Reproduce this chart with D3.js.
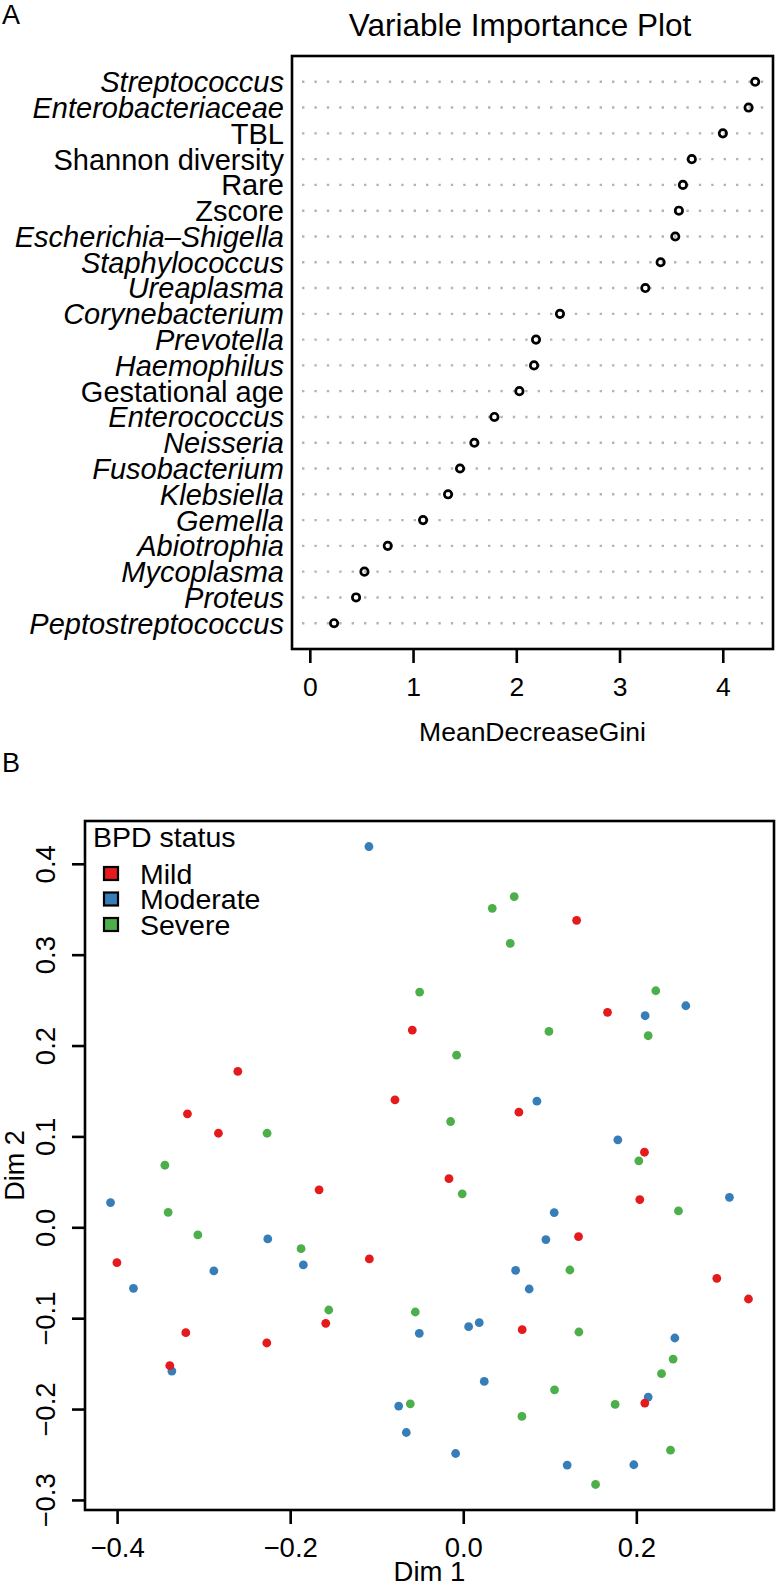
<!DOCTYPE html>
<html><head><meta charset="utf-8">
<script src="https://cdn.jsdelivr.net/npm/d3@7/dist/d3.min.js"></script>
<style>body{margin:0;background:#fff} text{font-family:"Liberation Sans",Arial,Helvetica,sans-serif;fill:#000}</style>
</head><body>
<svg id="c" width="776" height="1588" xmlns="http://www.w3.org/2000/svg"></svg>
<script>
// ---------- Panel A data ----------
const varNames = ["Streptococcus","Enterobacteriaceae","TBL","Shannon diversity","Rare","Zscore",
  "Escherichia–Shigella","Staphylococcus","Ureaplasma","Corynebacterium","Prevotella","Haemophilus",
  "Gestational age","Enterococcus","Neisseria","Fusobacterium","Klebsiella","Gemella","Abiotrophia",
  "Mycoplasma","Proteus","Peptostreptococcus"];
const varIsGenus = [true,true,false,false,false,false,true,true,true,true,true,true,false,true,true,true,true,true,true,true,true,true];
const meanDecreaseGini = [4.314,4.25,4.001,3.70,3.614,3.575,3.54,3.398,3.25,2.423,2.191,2.172,2.03,1.788,1.594,1.455,1.339,1.097,0.755,0.529,0.448,0.235];
const giniTicks = [0,1,2,3,4];
const titleA = "Variable Importance Plot";
const xLabelA = "MeanDecreaseGini";

// ---------- Panel B data ----------
const bpdStatus = ["Mild","Moderate","Severe"];
const mildDim1 = [-0.2605,-0.3187,-0.2829,-0.0789,0.131,0.1667,-0.0589,0.0643,0.2094,-0.0165,0.204,0.1332,0.293,0.3296,0.0681,0.2098,-0.1666,-0.1085,-0.4002,-0.1589,-0.3206,-0.227,-0.3391];
const mildDim2 = [0.1715,0.1249,0.1035,0.1403,0.3378,0.2365,0.217,0.1267,0.0826,0.0535,0.0305,-0.0102,-0.0561,-0.0789,-0.1127,-0.1934,0.0412,-0.0348,-0.0389,-0.1057,-0.116,-0.1273,-0.1523];
const moderateDim1 = [-0.109,0.2572,0.2102,0.0851,0.1786,0.3076,0.1051,0.0955,0.0605,0.0762,-0.0508,0.0062,0.0185,0.2445,0.0243,0.2137,-0.0746,-0.0658,-0.0088,0.1201,0.1971,-0.4076,-0.2259,-0.1848,-0.2882,-0.3811,-0.3367];
const moderateDim2 = [0.419,0.2438,0.2328,0.1388,0.0962,0.033,0.0162,-0.0135,-0.0474,-0.0679,-0.1167,-0.1094,-0.105,-0.1218,-0.1696,-0.1868,-0.1967,-0.2258,-0.2489,-0.2617,-0.2613,0.0272,-0.0128,-0.0414,-0.048,-0.0672,-0.1582];
const severeDim1 = [-0.2267,-0.3448,0.0589,0.0335,0.0543,-0.0504,0.2225,0.2137,0.099,-0.0077,-0.0146,0.2029,-0.0012,0.2487,0.1232,-0.0554,0.1336,0.2425,0.2291,0.1055,0.1755,-0.0612,0.0678,0.2395,0.1529,-0.341,-0.3067,-0.1874,-0.1554];
const severeDim2 = [0.1035,0.0683,0.3639,0.351,0.3124,0.2588,0.2603,0.2108,0.2155,0.1894,0.1164,0.0731,0.0368,0.018,-0.047,-0.0932,-0.1152,-0.145,-0.1611,-0.1788,-0.1949,-0.1942,-0.2081,-0.2452,-0.283,0.0165,-0.0084,-0.0235,-0.091];
const dim1Ticks = [-0.4,-0.2,0.0,0.2];
const dim1TickLabels = ["−0.4","−0.2","0.0","0.2"];
const dim2Ticks = [-0.3,-0.2,-0.1,0.0,0.1,0.2,0.3,0.4];
const dim2TickLabels = ["−0.3","−0.2","−0.1","0.0","0.1","0.2","0.3","0.4"];
const legendTitle = "BPD status";

// ---------- styles ----------
const colors = {Mild:"#E41A1C", Moderate:"#377EB8", Severe:"#4DAF4A"};
const svg = d3.select("#c");

// =============== Panel A ===============
const boxA = {l:292, r:773, t:56, b:649};
const maxG = d3.max(meanDecreaseGini);
const xA = d3.scaleLinear().domain([-0.04*maxG, 1.04*maxG]).range([boxA.l, boxA.r]);
const nA = varNames.length;
const yA = d3.scaleLinear().domain([0, nA+1]).range([boxA.b, boxA.t]);
const rows = varNames.map((name,i)=>({name, genus:varIsGenus[i], v:meanDecreaseGini[i], pos:nA-i}));

svg.append("text").attr("x",2).attr("y",24).attr("font-size",27).text("A");
svg.append("text").attr("x",520).attr("y",36).attr("text-anchor","middle").attr("font-size",31.5).text(titleA);

const gA = svg.append("g");
gA.selectAll("line.dot").data(rows).join("line")
  .attr("x1",boxA.l+10).attr("x2",boxA.r-4)
  .attr("y1",d=>yA(d.pos)).attr("y2",d=>yA(d.pos))
  .attr("stroke","#b4b4b4").attr("stroke-width",2.4).attr("stroke-dasharray","2.4,10");
gA.selectAll("circle").data(rows).join("circle")
  .attr("cx",d=>xA(d.v)).attr("cy",d=>yA(d.pos)).attr("r",3.7)
  .attr("fill","none").attr("stroke","#000").attr("stroke-width",2.7);
gA.selectAll("text.lab").data(rows).join("text")
  .attr("x",boxA.l-8).attr("y",d=>yA(d.pos)).attr("dy","0.36em")
  .attr("text-anchor","end").attr("font-size",29)
  .attr("font-style",d=>d.genus?"italic":"normal").text(d=>d.name);
gA.append("rect").attr("x",boxA.l).attr("y",boxA.t).attr("width",boxA.r-boxA.l).attr("height",boxA.b-boxA.t)
  .attr("fill","none").attr("stroke","#000").attr("stroke-width",2.6);
const axA = gA.append("g").attr("transform",`translate(0,${boxA.b})`)
  .call(d3.axisBottom(xA).tickValues(giniTicks).tickSize(14).tickPadding(14).tickFormat(d3.format("d")));
axA.select(".domain").remove();
axA.selectAll("line").attr("stroke","#000").attr("stroke-width",2.6);
axA.selectAll("text").attr("font-size",26.5).attr("font-family","Liberation Sans, Arial, sans-serif").attr("fill","#000");
svg.append("text").attr("x",(boxA.l+boxA.r)/2).attr("y",741).attr("text-anchor","middle").attr("font-size",26.5).text(xLabelA);

// =============== Panel B ===============
const boxB = {l:85, r:774, t:821, b:1510};
const allX = mildDim1.concat(moderateDim1, severeDim1);
const allY = mildDim2.concat(moderateDim2, severeDim2);
function ext4(a){const e=d3.extent(a);const p=(e[1]-e[0])*0.04;return [e[0]-p,e[1]+p];}
const xB = d3.scaleLinear().domain(ext4(allX)).range([boxB.l, boxB.r]);
const yB = d3.scaleLinear().domain(ext4(allY)).range([boxB.b, boxB.t]);

svg.append("text").attr("x",2).attr("y",772).attr("font-size",27).text("B");

const seriesB = [
  {k:"Moderate", x:moderateDim1, y:moderateDim2},
  {k:"Severe", x:severeDim1, y:severeDim2},
  {k:"Mild", x:mildDim1, y:mildDim2}
];
const gB = svg.append("g");
seriesB.forEach(s=>{
  gB.append("g").selectAll("circle").data(s.x.map((v,i)=>[v,s.y[i]])).join("circle")
    .attr("cx",d=>xB(d[0])).attr("cy",d=>yB(d[1])).attr("r",4.4).attr("fill",colors[s.k]);
});
gB.append("rect").attr("x",boxB.l).attr("y",boxB.t).attr("width",boxB.r-boxB.l).attr("height",boxB.b-boxB.t)
  .attr("fill","none").attr("stroke","#000").attr("stroke-width",2.6);

const axBx = gB.append("g").attr("transform",`translate(0,${boxB.b})`)
  .call(d3.axisBottom(xB).tickValues(dim1Ticks).tickSize(14).tickPadding(13).tickFormat((d,i)=>dim1TickLabels[i]));
axBx.select(".domain").remove();
axBx.selectAll("line").attr("stroke","#000").attr("stroke-width",2.6);
axBx.selectAll("text").attr("font-size",27.5).attr("font-family","Liberation Sans, Arial, sans-serif").attr("fill","#000");

const axBy = gB.append("g").attr("transform",`translate(${boxB.l},0)`)
  .call(d3.axisLeft(yB).tickValues(dim2Ticks).tickSize(13).tickFormat((d,i)=>dim2TickLabels[i]));
axBy.select(".domain").remove();
axBy.selectAll("line").attr("stroke","#000").attr("stroke-width",2.6);
axBy.selectAll("text").attr("font-size",27.5).attr("font-family","Liberation Sans, Arial, sans-serif").attr("fill","#000")
  .attr("transform","rotate(-90)").attr("x",0).attr("y",-30).attr("dy",null).attr("text-anchor","middle");

svg.append("text").attr("x",(boxB.l+boxB.r)/2).attr("y",1581).attr("text-anchor","middle").attr("font-size",27.5).text("Dim 1");
svg.append("text").attr("transform",`translate(24,${(boxB.t+boxB.b)/2}) rotate(-90)`).attr("text-anchor","middle").attr("font-size",27).text("Dim 2");

// legend
const lg = svg.append("g");
lg.append("text").attr("x",93).attr("y",847).attr("font-size",28.5).text(legendTitle);
bpdStatus.forEach((k,i)=>{
  const cy = 873.5 + i*25.5;
  lg.append("rect").attr("x",104).attr("y",cy-6.5).attr("width",14).attr("height",13)
    .attr("fill",colors[k]).attr("stroke","#000").attr("stroke-width",2.2);
  lg.append("text").attr("x",140).attr("y",cy).attr("dy","0.36em").attr("font-size",28.5).text(k);
});
</script>
</body></html>
